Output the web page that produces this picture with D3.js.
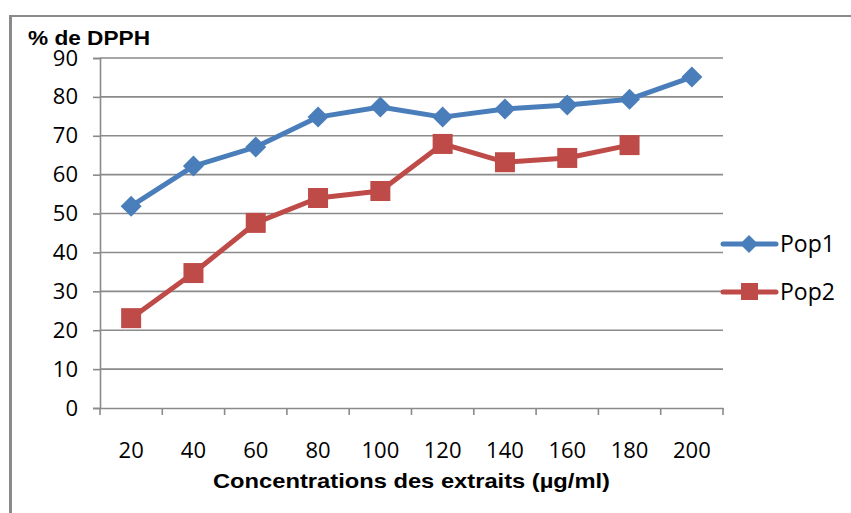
<!DOCTYPE html>
<html>
<head>
<meta charset="utf-8">
<script src="https://cdn.jsdelivr.net/npm/d3@7"></script>
<style>
  html, body { margin: 0; padding: 0; background: #fff; }
  svg { display: block; }
</style>
</head>
<body>
<svg id="chart" width="851" height="513"></svg>
<script>
const categories = ["20", "40", "60", "80", "100", "120", "140", "160", "180", "200"];
const pop1 = [51.9, 62.2, 67.1, 74.8, 77.4, 74.8, 76.9, 77.9, 79.4, 85.1];
const pop2 = [23.1, 34.7, 47.6, 54.0, 55.8, 67.9, 63.2, 64.3, 67.6, null];
const yTicks = [0, 10, 20, 30, 40, 50, 60, 70, 80, 90];
const seriesNames = ["Pop1", "Pop2"];

(function () {
const svg = d3.select("#chart");
const pLeft = 100, pRight = 723, pTop = 58, pBottom = 408;
const x = d3.scaleBand().domain(categories).range([pLeft, pRight]);
const y = d3.scaleLinear().domain([0, 90]).range([pBottom, pTop]);
const grey = "#8a8a8a";
const font = "'Open Sans', 'Noto Sans', sans-serif";

// outer frame (top and left edges only visible)
svg.append("line").attr("x1", 10).attr("x2", 851).attr("y1", 16).attr("y2", 16)
  .attr("stroke", grey).attr("stroke-width", 2);
svg.append("line").attr("x1", 10.5).attr("x2", 10.5).attr("y1", 15).attr("y2", 513)
  .attr("stroke", grey).attr("stroke-width", 3);

// gridlines
svg.append("g").selectAll("line").data(yTicks.filter(d => d > 0)).join("line")
  .attr("x1", pLeft).attr("x2", pRight)
  .attr("y1", d => y(d)).attr("y2", d => y(d))
  .attr("stroke", grey).attr("stroke-width", 1.6);

// y axis
const yAxis = svg.append("g").attr("transform", `translate(${pLeft},0)`)
  .call(d3.axisLeft(y).tickValues(yTicks).tickSize(7).tickPadding(15).tickFormat(d3.format("d")));
yAxis.select(".domain").attr("stroke", grey).attr("stroke-width", 1.6);
yAxis.selectAll(".tick line").attr("stroke", grey).attr("stroke-width", 1.6);
yAxis.selectAll("text").attr("font-family", font).attr("font-size", 22).attr("fill", "#000");

// x axis
const xAxis = svg.append("g").attr("transform", `translate(0,${pBottom})`)
  .call(d3.axisBottom(x).tickSize(0).tickPadding(34));
xAxis.select(".domain").attr("stroke", grey).attr("stroke-width", 1.6);
xAxis.selectAll("text").attr("font-family", font).attr("font-size", 22).attr("fill", "#000");
const edges = categories.map(c => x(c)).concat([pRight]);
svg.append("g").selectAll("line").data(edges).join("line")
  .attr("x1", d => d).attr("x2", d => d)
  .attr("y1", pBottom).attr("y2", pBottom + 7)
  .attr("stroke", grey).attr("stroke-width", 1.6);

// titles
svg.append("text").attr("x", 28).attr("y", 45)
  .attr("font-family", "'Liberation Sans', Arial, sans-serif").attr("font-weight", "bold")
  .attr("font-size", 20).attr("textLength", 122).attr("lengthAdjust", "spacingAndGlyphs")
  .text("% de DPPH");
svg.append("text").attr("x", 213).attr("y", 488)
  .attr("font-family", "'Liberation Sans', Arial, sans-serif").attr("font-weight", "bold")
  .attr("font-size", 21).attr("textLength", 397).attr("lengthAdjust", "spacingAndGlyphs")
  .text("Concentrations des extraits (µg/ml)");

const cx = c => x(c) + x.bandwidth() / 2;
const colors = ["#4A7EBB", "#BE4B48"];
const data = [pop1, pop2];

data.forEach((vals, i) => {
  const pts = categories.map((c, j) => ({ c, v: vals[j] })).filter(p => p.v != null);
  svg.append("path").datum(pts)
    .attr("fill", "none").attr("stroke", colors[i]).attr("stroke-width", 5)
    .attr("stroke-linejoin", "round")
    .attr("d", d3.line().x(p => cx(p.c)).y(p => y(p.v)));
  if (i === 0) {
    svg.append("g").selectAll("path").data(pts).join("path")
      .attr("transform", p => `translate(${cx(p.c)},${y(p.v)})`)
      .attr("d", "M0,-10.5L10.5,0L0,10.5L-10.5,0Z").attr("fill", colors[i]);
  } else {
    svg.append("g").selectAll("rect").data(pts).join("rect")
      .attr("x", p => cx(p.c) - 10).attr("y", p => y(p.v) - 10)
      .attr("width", 20).attr("height", 20).attr("fill", colors[i]);
  }
});

// legend
const legY = [244, 292];
seriesNames.forEach((name, i) => {
  const g = svg.append("g");
  g.append("line").attr("x1", 723).attr("x2", 776).attr("y1", legY[i]).attr("y2", legY[i])
    .attr("stroke", colors[i]).attr("stroke-width", 5).attr("stroke-linecap", "round");
  if (i === 0) {
    g.append("path").attr("transform", `translate(749,${legY[i]})`)
      .attr("d", "M0,-9L9,0L0,9L-9,0Z").attr("fill", colors[i]);
  } else {
    g.append("rect").attr("x", 741).attr("y", legY[i] - 9).attr("width", 17).attr("height", 17)
      .attr("fill", colors[i]);
  }
  g.append("text").attr("x", 780).attr("y", legY[i]).attr("dy", "0.36em")
    .attr("font-family", font).attr("font-size", 23).attr("fill", "#000").text(name);
});
})();
</script>
</body>
</html>
